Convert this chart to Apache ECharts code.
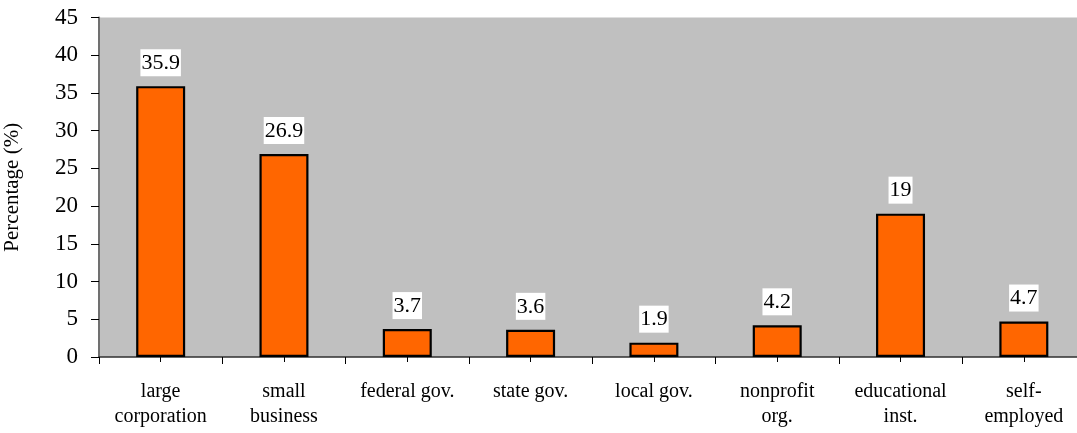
<!DOCTYPE html>
<html>
<head>
<meta charset="utf-8">
<script src="https://cdn.jsdelivr.net/npm/echarts@6/dist/echarts.min.js"></script>
<style>
html,body{margin:0;padding:0;background:#fff;}
#chart{width:1077px;height:433px;}
</style>
</head>
<body>
<div id="chart"></div>
<script>
var categories = ['large\ncorporation', 'small\nbusiness', 'federal gov.', 'state gov.', 'local gov.', 'nonprofit\norg.', 'educational\ninst.', 'self-\nemployed'];
var values = [35.9, 26.9, 3.7, 3.6, 1.9, 4.2, 19, 4.7];
var yTicks = { min: 0, max: 45, interval: 5 };
var yAxisTitle = 'Percentage (%)';
var halfSlots = [];
for (var i = 0; i < categories.length * 2; i++) halfSlots.push('h' + i);

var font = '"Liberation Serif", "Times New Roman", serif';
var chart = echarts.init(document.getElementById('chart'), null, { renderer: 'canvas' });
chart.setOption({
  animation: false,
  grid: { left: 99, right: -8.5, top: 17.5, bottom: 76, backgroundColor: '#C0C0C0', show: true, borderWidth: 0, containLabel: false, outerBoundsMode: 'none' },
  xAxis: [{
    type: 'category',
    data: categories,
    boundaryGap: true,
    axisLine: { show: true, lineStyle: { color: '#303030', width: 1.5 } },
    axisTick: { show: true, length: 7, interval: 0, lineStyle: { color: '#000' } },
    axisLabel: { color: '#000', fontFamily: font, fontSize: 20, lineHeight: 25, margin: 22, interval: 0 },
    splitLine: { show: false }
  }, {
    type: 'category',
    data: halfSlots,
    position: 'bottom',
    offset: 0,
    boundaryGap: true,
    show: true,
    axisLine: { show: false },
    axisTick: { show: true, length: 5, interval: 0, lineStyle: { color: '#000' } },
    axisLabel: { show: false, interval: 0 },
    splitLine: { show: false }
  }],
  yAxis: {
    type: 'value',
    min: yTicks.min, max: yTicks.max, interval: yTicks.interval,
    name: yAxisTitle,
    nameLocation: 'middle',
    nameGap: 76,
    nameTextStyle: { color: '#000', fontFamily: font, fontSize: 21 },
    axisLine: { show: true, lineStyle: { color: '#707070', width: 2 } },
    axisTick: { show: true, length: 8, lineStyle: { color: '#000' } },
    axisLabel: { color: '#000', fontFamily: font, fontSize: 23, margin: 21 },
    splitLine: { show: false }
  },
  series: [{
    type: 'bar',
    data: values,
    barWidth: 49,
    itemStyle: { color: '#FF6600', borderColor: '#000', borderWidth: 2.2 },
    label: {
      show: true,
      position: 'top',
      distance: 10,
      color: '#000',
      fontFamily: font,
      fontSize: 22,
      backgroundColor: '#fff',
      padding: [3, 1, 2, 1]
    }
  }, {
    type: 'line',
    xAxisIndex: 1,
    data: [],
    silent: true,
    showSymbol: false
  }]
});
</script>
</body>
</html>
